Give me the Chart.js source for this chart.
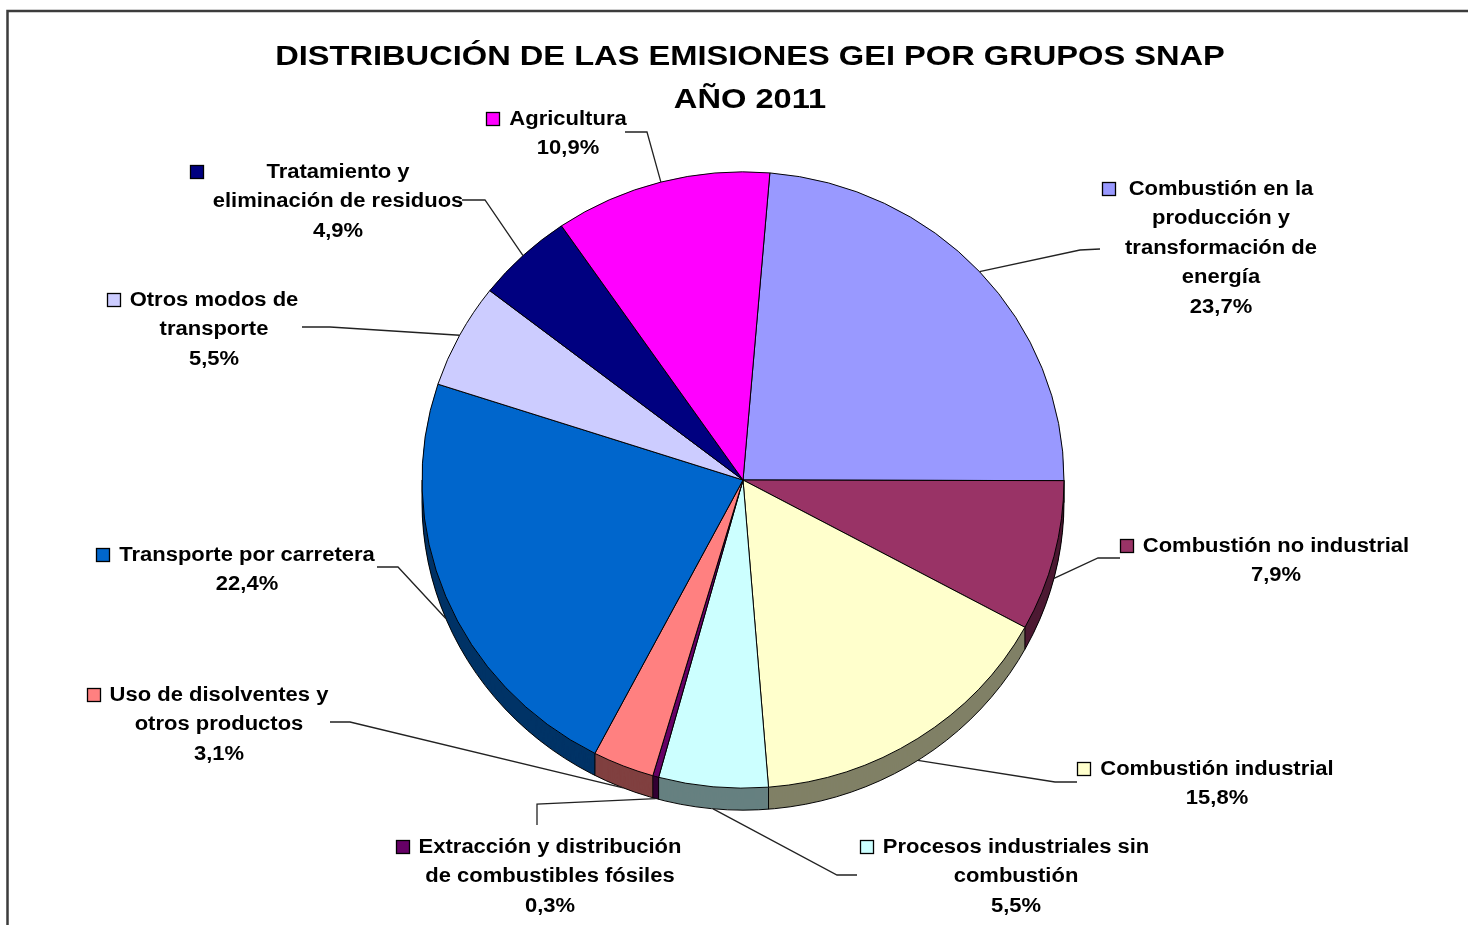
<!DOCTYPE html>
<html>
<head>
<meta charset="utf-8">
<script src="https://cdn.jsdelivr.net/npm/chart.js@4"></script>
<style>
  body { margin: 0; background: #fff; }
  #wrap { position: relative; width: 1468px; height: 925px; }
</style>
</head>
<body>
<div id="wrap"><canvas id="pie"></canvas></div>
<script>
// datos
var titleLines = ["DISTRIBUCIÓN DE LAS EMISIONES GEI POR GRUPOS SNAP", "AÑO 2011"];
var categories = [
  "Combustión en la producción y transformación de energía",
  "Combustión no industrial",
  "Combustión industrial",
  "Procesos industriales sin combustión",
  "Extracción y distribución de combustibles fósiles",
  "Uso de disolventes y otros productos",
  "Transporte por carretera",
  "Otros modos de transporte",
  "Tratamiento y eliminación de residuos",
  "Agricultura"
];
var values = [23.7, 7.9, 15.8, 5.5, 0.3, 3.1, 22.4, 5.5, 4.9, 10.9];
var colors = ['#9999FF', '#993366', '#FFFFCC', '#CCFFFF', '#660066', '#FF8080', '#0066CC', '#CCCCFF', '#000080', '#FF00FF'];
var labelLines = [
  ["Combustión en la", "producción y", "transformación de", "energía"],
  ["Combustión no industrial"],
  ["Combustión industrial"],
  ["Procesos industriales sin", "combustión"],
  ["Extracción y distribución", "de combustibles fósiles"],
  ["Uso de disolventes y", "otros productos"],
  ["Transporte por carretera"],
  ["Otros modos de", "transporte"],
  ["Tratamiento y", "eliminación de residuos"],
  ["Agricultura"]
];

// layout: centro del texto (x, y primera linea) y quiebres de la linea guia
var labelBox = [[1221, 187], [1276, 544], [1217, 767], [1016, 845], [550, 845],
                [219, 693], [247, 553], [214, 298], [338, 170], [568, 117]];
var leaderPts = [
  [[1080, 250], [1100, 249]],
  [[1098, 558], [1120, 558]],
  [[1055, 782], [1077, 782]],
  [[837, 875], [857, 875]],
  [[537, 804], [537, 825]],
  [[350, 722], [330, 722]],
  [[398, 567], [377, 567]],
  [[330, 327], [302, 327]],
  [[485, 200], [462, 200]],
  [[647, 132], [625, 132]]
];
var tilt = 0.96;
var depth = 22;
var fontFam = "'Liberation Sans', Arial, sans-serif";

function darker(hex) {
  var n = parseInt(hex.slice(1), 16);
  var r = (n >> 16) & 255, g = (n >> 8) & 255, b = n & 255;
  return 'rgb(' + Math.round(r / 2) + ',' + Math.round(g / 2) + ',' + Math.round(b / 2) + ')';
}

function pct(v) {
  return v.toFixed(1).replace('.', ',') + '%';
}

// marco + titulo
var framePlugin = {
  id: 'frame',
  beforeDraw: function(chart) {
    var ctx = chart.ctx;
    ctx.save();
    ctx.fillStyle = '#fff';
    ctx.fillRect(0, 0, chart.width, chart.height);
    ctx.strokeStyle = '#3c3c3c';
    ctx.lineWidth = 2.5;
    ctx.beginPath();
    ctx.moveTo(7.5, chart.height);
    ctx.lineTo(7.5, 11);
    ctx.lineTo(chart.width, 11);
    ctx.stroke();
    ctx.fillStyle = '#000';
    ctx.font = 'bold 28px ' + fontFam;
    ctx.textAlign = 'center';
    ctx.textBaseline = 'alphabetic';
    var base = [65, 108];
    for (var i = 0; i < titleLines.length; i++) {
      ctx.save();
      ctx.translate(750, base[i]);
      ctx.scale(1.165, 1);
      ctx.fillText(titleLines[i], 0, 0);
      ctx.restore();
    }
    ctx.restore();
  }
};

// efecto 3D: inclinacion y canto de la tarta
var tiltPlugin = {
  id: 'tilt3d',
  beforeDatasetsDraw: function(chart) {
    var ctx = chart.ctx;
    var arcs = chart.getDatasetMeta(0).data;
    var cx = arcs[0].x, cy = arcs[0].y, r = arcs[0].outerRadius;
    ctx.save();
    ctx.translate(cx, cy);
    ctx.scale(1, tilt);
    ctx.translate(-cx, -cy);
    var d = depth / tilt;
    for (var k = d; k >= 1; k -= 1) {
      arcs.forEach(function(a, i) {
        ctx.beginPath();
        ctx.moveTo(cx, cy + k);
        ctx.arc(cx, cy + k, r, a.startAngle, a.endAngle);
        ctx.closePath();
        ctx.fillStyle = darker(colors[i]);
        ctx.fill();
      });
    }
    ctx.strokeStyle = '#000';
    ctx.lineWidth = 1;
    ctx.beginPath();
    ctx.arc(cx, cy + d, r, 0, Math.PI);
    ctx.stroke();
    ctx.beginPath();
    arcs.forEach(function(a) {
      if (Math.sin(a.startAngle) > 0) {
        var px = cx + r * Math.cos(a.startAngle), py = cy + r * Math.sin(a.startAngle);
        ctx.moveTo(px, py);
        ctx.lineTo(px, py + d);
      }
    });
    ctx.moveTo(cx + r, cy); ctx.lineTo(cx + r, cy + d);
    ctx.moveTo(cx - r, cy); ctx.lineTo(cx - r, cy + d);
    ctx.stroke();
  },
  afterDatasetsDraw: function(chart) {
    var ctx = chart.ctx;
    ctx.restore();
    var arcs = chart.getDatasetMeta(0).data;
    var lh = 29.5, sx = 1.1;
    arcs.forEach(function(a, i) {
      var mid = (a.startAngle + a.endAngle) / 2;
      var s = Math.sin(mid);
      var px = a.x + a.outerRadius * Math.cos(mid);
      var py = a.y + a.outerRadius * s * tilt + (s > 0 ? depth : 0);
      // linea guia
      ctx.save();
      ctx.strokeStyle = '#222';
      ctx.lineWidth = 1.3;
      ctx.beginPath();
      ctx.moveTo(px, py);
      leaderPts[i].forEach(function(p) { ctx.lineTo(p[0], p[1]); });
      ctx.stroke();
      ctx.restore();

      // texto
      var lines = labelLines[i].concat([pct(values[i])]);
      var cx = labelBox[i][0], y0 = labelBox[i][1];
      ctx.save();
      ctx.font = 'bold 20px ' + fontFam;
      ctx.fillStyle = '#000';
      ctx.textAlign = 'center';
      ctx.textBaseline = 'alphabetic';
      var minLeft = 99999;
      lines.forEach(function(t, j) {
        var w = ctx.measureText(t).width * sx;
        if (j < lines.length - 1) minLeft = Math.min(minLeft, cx - w / 2);
        ctx.save();
        ctx.translate(cx, y0 + j * lh + 7.5);
        ctx.scale(sx, 1);
        ctx.fillText(t, 0, 0);
        ctx.restore();
      });
      // cuadro de leyenda
      var bx = Math.round(minLeft - 23) + 0.5, by = Math.round(y0 + 7.5 - 13) + 0.5;
      ctx.fillStyle = colors[i];
      ctx.fillRect(bx, by, 13, 13);
      ctx.strokeStyle = '#000';
      ctx.lineWidth = 1.3;
      ctx.strokeRect(bx, by, 13, 13);
      ctx.restore();
    });
  }
};

var data = {
  labels: categories,
  datasets: [{
    data: values,
    backgroundColor: colors,
    borderColor: '#000',
    borderWidth: 1
  }]
};

var config = {
  type: 'pie',
  data: data,
  options: {
    responsive: true,
    maintainAspectRatio: false,
    animation: false,
    events: [],
    rotation: 4.8,
    radius: 321,
    layout: { padding: { left: 18, right: 0, top: 35, bottom: 0 } },
    plugins: {
      legend: { display: false },
      tooltip: { enabled: false },
      title: { display: false }
    }
  },
  plugins: [framePlugin, tiltPlugin]
};

var ctx = document.getElementById('pie');
var chart = new Chart(ctx, config);
</script>
</body>
</html>
